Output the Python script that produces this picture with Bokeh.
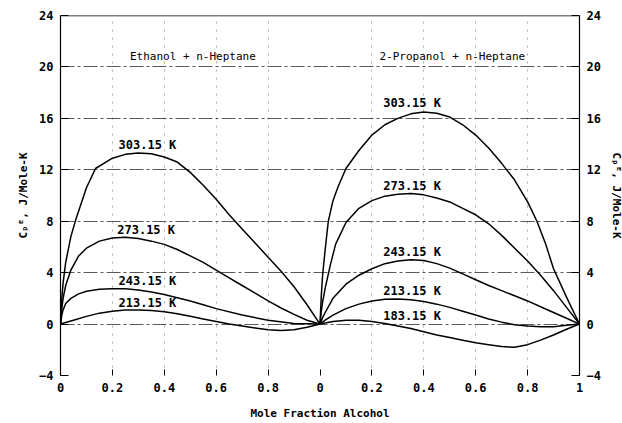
from bokeh.plotting import figure
from bokeh.models import Range1d, LinearAxis, FixedTicker, Span
from bokeh.core.properties import value
from bokeh.embed import file_html
from bokeh.resources import INLINE

# ---------------- data ----------------
# Left panel: Ethanol + n-Heptane, x = mole fraction alcohol
eth_303_x = [0, 0.005, 0.01, 0.02, 0.04, 0.06, 0.1, 0.135, 0.2, 0.25, 0.3, 0.35, 0.4, 0.45, 0.5,
             0.55, 0.6, 0.65, 0.7, 0.75, 0.8, 0.85, 0.9, 0.95, 1.0]
eth_303_y = [0, 2.0, 3.2, 4.8, 6.8, 8.2, 10.6, 12.1, 12.9, 13.2, 13.3, 13.25, 13.0, 12.6, 11.8,
             10.8, 9.7, 8.5, 7.4, 6.3, 5.2, 4.1, 2.9, 1.5, 0]
eth_273_x = [0, 0.005, 0.01, 0.02, 0.04, 0.07, 0.1, 0.15, 0.2, 0.25, 0.3, 0.35, 0.4, 0.45, 0.5,
             0.55, 0.6, 0.65, 0.7, 0.75, 0.8, 0.85, 0.9, 0.95, 1.0]
eth_273_y = [0, 1.2, 2.0, 3.0, 4.2, 5.3, 5.9, 6.45, 6.7, 6.75, 6.65, 6.45, 6.2, 5.8, 5.3,
             4.8, 4.2, 3.6, 3.0, 2.4, 1.8, 1.25, 0.75, 0.3, 0]
eth_243_x = [0, 0.005, 0.01, 0.02, 0.04, 0.07, 0.1, 0.15, 0.2, 0.25, 0.3, 0.35, 0.4, 0.45, 0.5,
             0.55, 0.6, 0.7, 0.8, 0.9, 1.0]
eth_243_y = [0, 0.7, 1.1, 1.6, 2.0, 2.35, 2.55, 2.7, 2.75, 2.75, 2.65, 2.5, 2.3, 2.05, 1.8,
             1.5, 1.2, 0.7, 0.3, 0.05, 0]
eth_213_x = [0, 0.05, 0.1, 0.15, 0.2, 0.25, 0.3, 0.35, 0.4, 0.45, 0.5, 0.55, 0.6, 0.65, 0.7,
             0.75, 0.8, 0.85, 0.9, 0.95, 1.0]
eth_213_y = [0, 0.3, 0.6, 0.85, 1.0, 1.1, 1.1, 1.05, 0.95, 0.8, 0.6, 0.4, 0.2, 0.0, -0.15,
             -0.3, -0.45, -0.5, -0.45, -0.25, 0]

# Right panel: 2-Propanol + n-Heptane
pro_303_x = [0, 0.005, 0.01, 0.02, 0.032, 0.05, 0.07, 0.1, 0.15, 0.2, 0.25, 0.3, 0.35, 0.4, 0.45,
             0.5, 0.55, 0.6, 0.65, 0.7, 0.75, 0.8, 0.836, 0.87, 0.9, 0.95, 1.0]
pro_303_y = [0, 2.2, 3.8, 5.8, 8.0, 9.6, 10.7, 12.1, 13.5, 14.7, 15.5, 16.0, 16.35, 16.5, 16.4,
             16.1, 15.5, 14.7, 13.7, 12.5, 11.2, 9.5, 8.0, 6.2, 4.3, 2.1, 0]
pro_273_x = [0, 0.005, 0.01, 0.02, 0.04, 0.06, 0.1, 0.15, 0.2, 0.25, 0.3, 0.35, 0.4, 0.45, 0.5,
             0.55, 0.6, 0.65, 0.7, 0.75, 0.8, 0.85, 0.9, 0.95, 1.0]
pro_273_y = [0, 1.0, 1.7, 2.8, 4.6, 6.2, 7.9, 9.0, 9.6, 9.95, 10.1, 10.15, 10.05, 9.8, 9.5,
             9.0, 8.5, 7.8, 6.9, 5.9, 4.9, 3.8, 2.6, 1.3, 0]
pro_243_x = [0, 0.01, 0.02, 0.05, 0.1, 0.15, 0.2, 0.25, 0.3, 0.35, 0.4, 0.45, 0.5, 0.55, 0.6,
             0.65, 0.7, 0.75, 0.8, 0.85, 0.9, 0.95, 1.0]
pro_243_y = [0, 0.5, 0.9, 2.0, 3.1, 3.8, 4.3, 4.7, 4.9, 5.0, 4.95, 4.7, 4.35, 3.9, 3.45,
             3.0, 2.6, 2.2, 1.8, 1.35, 0.9, 0.45, 0]
pro_213_x = [0, 0.02, 0.05, 0.1, 0.15, 0.2, 0.25, 0.3, 0.35, 0.4, 0.45, 0.5, 0.55, 0.6, 0.65,
             0.7, 0.75, 0.8, 0.85, 0.9, 0.95, 1.0]
pro_213_y = [0, 0.3, 0.7, 1.2, 1.55, 1.8, 1.93, 1.95, 1.9, 1.75, 1.55, 1.3, 1.0, 0.7, 0.4,
             0.15, -0.05, -0.15, -0.2, -0.2, -0.1, 0]
pro_183_x = [0, 0.05, 0.1, 0.15, 0.2, 0.25, 0.3, 0.35, 0.4, 0.45, 0.5, 0.55, 0.6, 0.65, 0.7,
             0.75, 0.8, 0.85, 0.9, 0.95, 1.0]
pro_183_y = [0, 0.2, 0.3, 0.3, 0.2, 0.05, -0.15, -0.35, -0.6, -0.85, -1.05, -1.25, -1.45, -1.6, -1.75,
             -1.8, -1.6, -1.25, -0.85, -0.4, 0]

# curve labels
eth_labels = ["303.15 K", "273.15 K", "243.15 K", "213.15 K"]
pro_labels = ["303.15 K", "273.15 K", "243.15 K", "213.15 K", "183.15 K"]
titles = ["Ethanol + n-Heptane", "2-Propanol + n-Heptane"]

# tick values / labels
y_ticks = [-4, 0, 4, 8, 12, 16, 20, 24]
x_ticks = [0, 0.2, 0.4, 0.6, 0.8, 1.0, 1.2, 1.4, 1.6, 1.8, 2.0]
x_tick_labels = ["0", "0.2", "0.4", "0.6", "0.8", "0", "0.2", "0.4", "0.6", "0.8", "1"]

# ---------------- layout / style ----------------
# label anchor positions (panel-local x, y)
eth_label_pos = [(0.335, 13.95), (0.33, 7.35), (0.335, 3.35), (0.335, 1.65)]
pro_label_pos = [(0.355, 17.2), (0.355, 10.75), (0.355, 5.6), (0.355, 2.6), (0.355, 0.6)]
title_pos = [(0.51, 20.8), (0.51, 20.8)]
OFFSET = 1.0  # right panel is drawn shifted by one unit along x

FONT = "DejaVu Sans Mono"

p = figure(frame_width=519, frame_height=360, output_backend="svg", toolbar_location=None,
           x_range=Range1d(0, 2), y_range=Range1d(-4, 24),
           min_border_left=60, min_border_right=41, min_border_top=15, min_border_bottom=46)
p.outline_line_color = None
p.background_fill_color = "white"

# axes
p.xaxis.ticker = FixedTicker(ticks=x_ticks)
p.xaxis.major_label_overrides = {t: l for t, l in zip(x_ticks, x_tick_labels)}
p.xaxis.axis_line_color = None
p.xaxis.major_tick_in = 6
p.xaxis.major_tick_out = 0
p.xaxis.minor_tick_line_color = None
p.xaxis.axis_label = "Mole Fraction Alcohol"
p.xaxis.axis_label_standoff = 12

p.yaxis.ticker = FixedTicker(ticks=y_ticks)
p.yaxis.major_tick_in = 8
p.yaxis.major_tick_out = 0
p.yaxis.minor_tick_line_color = None
p.yaxis.axis_label = "C\u209a\u1d31, J/Mole-K"
p.yaxis.axis_label_standoff = 6

right_axis = LinearAxis(ticker=FixedTicker(ticks=y_ticks), axis_label="C\u209a\u1d31, J/Mole-K",
                        major_tick_in=8, major_tick_out=0, minor_tick_line_color=None,
                        axis_label_standoff=6)
p.add_layout(right_axis, "right")

for ax in p.axis:
    ax.major_label_text_font = FONT
    ax.major_label_text_font_style = "bold"
    ax.major_label_text_font_size = "12px"
    ax.major_label_text_color = "black"
    ax.axis_label_text_font = FONT
    ax.axis_label_text_font_style = "bold"
    ax.axis_label_text_font_size = "11px"
    ax.axis_label_text_color = "black"
    ax.major_tick_line_color = "black"
    ax.major_label_standoff = 7
for ax in p.yaxis:
    ax.axis_line_color = "black"
    ax.axis_line_width = 1.2

# grid
p.ygrid.ticker = FixedTicker(ticks=[0, 4, 8, 12, 16, 20])
p.ygrid.grid_line_color = "#222222"
p.ygrid.grid_line_alpha = 0.75
p.ygrid.grid_line_dash = "14 3 3 3"
p.ygrid.grid_line_width = 1
p.xgrid.ticker = FixedTicker(ticks=[0.2, 0.4, 0.6, 0.8, 1.2, 1.4, 1.6, 1.8])
p.xgrid.grid_line_color = "#444444"
p.xgrid.grid_line_alpha = 0.45
p.xgrid.grid_line_dash = "2 6"
p.xgrid.grid_line_width = 1

p.add_layout(Span(location=24, dimension="width", line_color="black", line_width=1.5))

# curves
left_curves = [(eth_303_x, eth_303_y), (eth_273_x, eth_273_y), (eth_243_x, eth_243_y), (eth_213_x, eth_213_y)]
right_curves = [(pro_303_x, pro_303_y), (pro_273_x, pro_273_y), (pro_243_x, pro_243_y),
                (pro_213_x, pro_213_y), (pro_183_x, pro_183_y)]
for xs, ys in left_curves:
    p.line(xs, ys, line_color="black", line_width=1.5, line_join="round")
for xs, ys in right_curves:
    p.line([x + OFFSET for x in xs], ys, line_color="black", line_width=1.5, line_join="round")

# curve labels
lx = [pos[0] for pos in eth_label_pos] + [pos[0] + OFFSET for pos in pro_label_pos]
ly = [pos[1] for pos in eth_label_pos] + [pos[1] for pos in pro_label_pos]
p.text(x=lx, y=ly, text=eth_labels + pro_labels, text_font=value(FONT), text_font_style="bold",
       text_font_size="12px", text_align="center", text_baseline="middle", text_color="black")

# panel titles
p.text(x=[title_pos[0][0], title_pos[1][0] + OFFSET], y=[title_pos[0][1], title_pos[1][1]], text=titles,
       text_font=value(FONT), text_font_size="11px", text_align="center", text_baseline="middle",
       text_color="black")

open("out.html", "w").write(file_html(p, INLINE))
